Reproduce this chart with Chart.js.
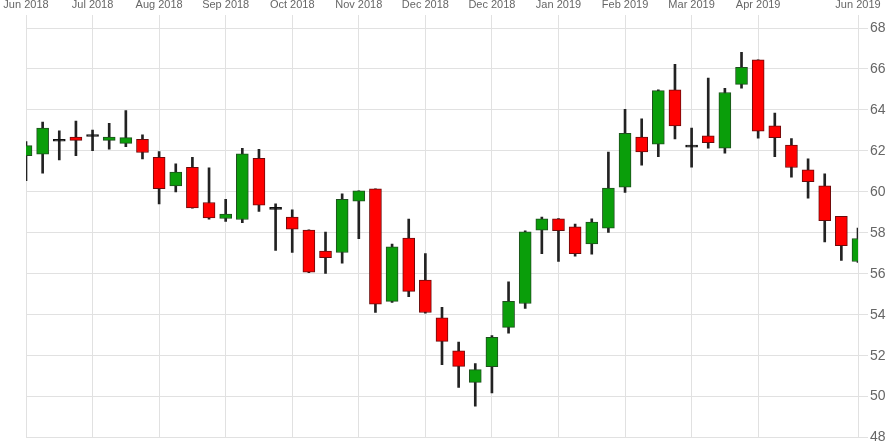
<!DOCTYPE html>
<html>
<head>
<meta charset="utf-8">
<script src="https://cdn.jsdelivr.net/npm/chart.js@4/dist/chart.umd.min.js"></script>
<style>
    html, body { margin: 0; padding: 0; background: #fff; }
    #chart { display: block; }
</style>
</head>
<body>
<canvas id="chart" width="894" height="448"></canvas>
<script>
// weekly candles, week starting dates
const weeks = [
    '2018-06-18', '2018-06-25', '2018-07-02', '2018-07-09', '2018-07-16', '2018-07-23', '2018-07-30',
    '2018-08-06', '2018-08-13', '2018-08-20', '2018-08-27', '2018-09-03', '2018-09-10', '2018-09-17',
    '2018-09-24', '2018-10-01', '2018-10-08', '2018-10-15', '2018-10-22', '2018-10-29', '2018-11-05',
    '2018-11-12', '2018-11-19', '2018-11-26', '2018-12-03', '2018-12-10', '2018-12-17', '2018-12-24',
    '2018-12-31', '2019-01-07', '2019-01-14', '2019-01-21', '2019-01-28', '2019-02-04', '2019-02-11',
    '2019-02-18', '2019-02-25', '2019-03-04', '2019-03-11', '2019-03-18', '2019-03-25', '2019-04-01',
    '2019-04-08', '2019-04-15', '2019-04-22', '2019-04-29', '2019-05-06', '2019-05-13', '2019-05-20',
    '2019-05-27', '2019-06-03'
];

const opens = [
    61.77, 61.84, 62.47, 62.67, 62.70, 62.51, 62.37, 62.57, 61.69, 60.29,
    61.20, 59.48, 58.70, 58.65, 61.64, 59.14, 58.77, 58.13, 57.11, 57.04,
    59.55, 60.15, 54.65, 57.74, 55.69, 53.85, 52.24, 50.70, 51.46, 53.38,
    54.55, 58.13, 58.68, 58.29, 57.46, 58.23, 60.23, 62.67, 62.33, 64.98,
    62.18, 62.73, 62.13, 65.25, 66.44, 63.22, 62.28, 61.07, 60.29, 58.80,
    56.60
];
const highs = [
    62.45, 63.41, 62.98, 63.46, 63.02, 63.35, 63.97, 62.78, 61.97, 61.37,
    61.69, 61.17, 59.64, 62.13, 62.08, 59.41, 59.12, 58.15, 58.03, 59.90,
    60.05, 60.15, 57.45, 58.67, 56.99, 54.36, 52.67, 51.61, 52.98, 55.60,
    58.10, 58.77, 58.70, 58.42, 58.68, 61.94, 64.03, 63.56, 64.98, 66.23,
    63.11, 65.55, 65.06, 66.81, 66.44, 63.84, 62.60, 61.61, 60.88, 58.80,
    58.23
];
const lows = [
    60.54, 60.91, 61.56, 61.77, 62.01, 62.08, 62.21, 61.61, 59.41, 60.00,
    59.20, 58.67, 58.55, 58.50, 59.04, 57.14, 57.04, 56.05, 56.02, 56.52,
    57.71, 54.11, 54.60, 54.88, 54.08, 51.56, 50.45, 49.53, 50.18, 53.10,
    54.31, 56.98, 56.60, 56.86, 56.96, 58.02, 59.97, 61.30, 61.72, 62.59,
    61.20, 62.13, 61.89, 65.06, 62.62, 61.72, 60.72, 59.69, 57.55, 56.65,
    56.55
];
const closes = [
    62.26, 63.11, 62.47, 62.51, 62.70, 62.67, 62.65, 61.92, 60.16, 60.96,
    59.22, 58.73, 58.91, 61.85, 59.35, 59.14, 58.18, 56.08, 56.78, 59.64,
    60.05, 54.52, 57.32, 55.14, 54.11, 52.70, 51.48, 51.32, 52.89, 54.65,
    58.05, 58.68, 58.10, 56.98, 58.52, 60.18, 62.86, 61.95, 64.94, 63.22,
    62.18, 62.40, 64.85, 66.08, 62.96, 62.65, 61.19, 60.50, 58.59, 57.37,
    57.72
];

// month labels on the top axis
const tickPositions = [0, 4, 8, 12, 16, 20, 24, 28, 32, 36, 40, 44, 50];
const tickLabels = [
    'Jun 2018', 'Jul 2018', 'Aug 2018', 'Sep 2018', 'Oct 2018', 'Nov 2018', 'Dec 2018',
    'Dec 2018', 'Jan 2019', 'Feb 2019', 'Mar 2019', 'Apr 2019', 'Jun 2019'
];

const yMin = 48;
const yMax = 68;
const yStep = 2;

document.addEventListener('DOMContentLoaded', () => {
    const ctx = document.getElementById('chart').getContext('2d');
    const gridColor = '#e1e1e1';

    const bodyFill = opens.map((o, i) => closes[i] > o ? '#0a9e0a' : (closes[i] < o ? '#ff0000' : '#111'));
    const bodyBorder = opens.map((o, i) => closes[i] > o ? '#1f4f1f' : (closes[i] < o ? '#6b0b0b' : '#111'));

    new Chart(ctx, {
        type: 'bar',
        data: {
            labels: weeks,
            datasets: [
                {
                    // candle bodies (drawn on top)
                    data: opens.map((o, i) => [o, closes[i]]),
                    backgroundColor: bodyFill,
                    borderColor: bodyBorder,
                    borderWidth: 1,
                    borderSkipped: false,
                    barThickness: 12,
                    minBarLength: 2,
                    clip: 0
                },
                {
                    // wicks
                    data: lows.map((l, i) => [l, highs[i]]),
                    backgroundColor: '#222',
                    borderWidth: 0,
                    barThickness: 2,
                    clip: 0
                }
            ]
        },
        options: {
            responsive: false,
            animation: false,
            grouped: false,
            layout: { padding: { left: 26, right: 0, top: 0, bottom: 10 } },
            plugins: {
                legend: { display: false },
                tooltip: { enabled: false }
            },
            scales: {
                x: {
                    position: 'top',
                    offset: false,
                    border: { display: false },
                    grid: {
                        offset: false,
                        tickLength: 13,
                        color: (c) => tickPositions.includes(c.index) ? gridColor : 'rgba(0,0,0,0)'
                    },
                    ticks: {
                        autoSkip: false,
                        maxRotation: 0,
                        padding: 3,
                        color: '#666',
                        font: { family: 'Liberation Sans, Arial, sans-serif', size: 11 },
                        callback: (v, i) => {
                            const k = tickPositions.indexOf(i);
                            return k >= 0 ? tickLabels[k] : '';
                        }
                    },
                    afterFit: (scale) => { scale.height = 28; }
                },
                y: {
                    position: 'right',
                    min: yMin,
                    max: yMax,
                    border: { display: false },
                    grid: { color: gridColor, tickLength: 10 },
                    ticks: {
                        stepSize: yStep,
                        padding: 2,
                        color: '#666',
                        font: { family: 'Liberation Sans, Arial, sans-serif', size: 14 }
                    },
                    afterFit: (scale) => { scale.width = 36; }
                }
            }
        }
    });
});
</script>
</body>
</html>
